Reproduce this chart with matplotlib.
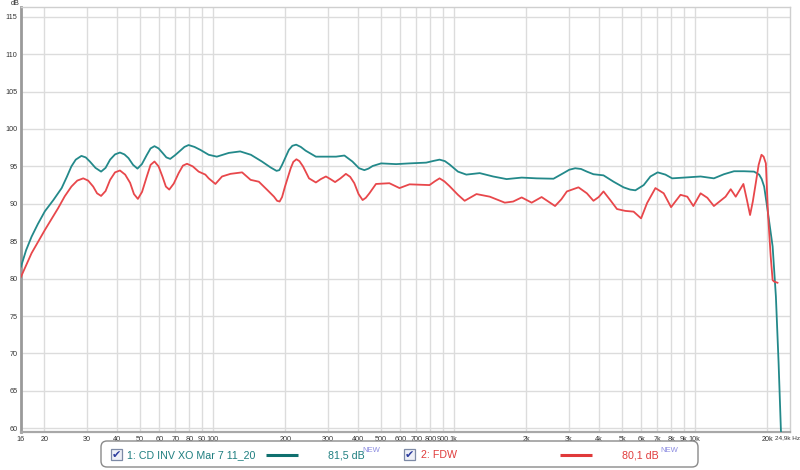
import matplotlib
matplotlib.use("Agg")
import matplotlib.pyplot as plt
from matplotlib.patches import FancyBboxPatch, Rectangle

plt.rcParams['font.family'] = ['Liberation Sans', 'DejaVu Sans']

# ---------------- data ----------------
teal_freq = [16, 16.8, 17.7, 18.8, 20.1, 21.8, 23.6, 24.8, 25.9, 27.0, 28.5, 29.7, 30.9, 32.6, 34.4,
             35.9, 37.5, 39.3, 41.2, 43.0, 44.7, 46.7, 48.7, 50.8, 53.2, 55.2, 57.3, 59.6, 61.9,
             64.2, 66.6, 69.8, 73.3, 76.3, 79.4, 84, 88.9, 96.2, 104, 116.6, 130, 144, 160, 174,
             184, 189, 194, 207, 214, 222, 232, 243, 268, 295, 325, 352, 380, 405, 426, 443, 461,
             500, 577, 656, 769, 830, 874, 920, 962, 1042, 1129, 1283, 1458, 1659, 1916, 2212, 2597,
             2856, 3020, 3195, 3380, 3573, 3805, 4188, 4612, 5074, 5400, 5680, 6150, 6560, 7030,
             7570, 8073, 9020, 10600, 12030, 13240, 14580, 16040, 17660, 18540, 19000, 19450,
             20000, 21090, 21760, 22330, 22830, 23000]
teal_db = [81.6, 83.8, 85.6, 87.3, 89.0, 90.5, 92.1, 93.6, 95.0, 95.9, 96.4, 96.2, 95.65, 94.8, 94.3,
           94.8, 95.9, 96.6, 96.85, 96.6, 96.1, 95.2, 94.7, 95.3, 96.5, 97.4, 97.7, 97.4, 96.8,
           96.2, 96.0, 96.5, 97.1, 97.6, 97.85, 97.6, 97.2, 96.55, 96.3, 96.8, 97.0, 96.55, 95.65, 94.85,
           94.4, 94.5, 95.2, 97.2, 97.75, 97.9, 97.6, 97.1, 96.3, 96.3, 96.3, 96.45, 95.65, 94.75, 94.5, 94.7, 95.05,
           95.4, 95.3, 95.4, 95.5, 95.75, 95.9, 95.7, 95.25, 94.3, 93.9, 94.1, 93.65, 93.3, 93.5, 93.4, 93.35,
           94.1, 94.55, 94.75, 94.65, 94.3, 93.95, 93.8, 92.95, 92.2, 91.9, 91.8, 92.5, 93.65, 94.2,
           93.9, 93.4, 93.5, 93.65, 93.4, 93.95, 94.35, 94.35, 94.3, 93.9, 93.3, 92.3,
           89.65, 84.3, 77.6, 68.7, 59.7, 58.5]

red_freq = [16, 17.7, 20.1, 22.8, 24.3, 25.9, 27.4, 29.0, 30.4, 31.9, 33.1, 34.4, 35.9, 37.5, 39.3,
            41.2, 43.3, 45.4, 47.1, 48.9, 50.9, 53.2, 55.2, 57.3, 59.6, 61.9, 63.9, 66, 68.9, 72.2,
            75.2, 78.2, 82.6, 87.4, 93.2, 96.2, 102.6, 109.3, 118.5, 132.4, 143.6, 155.4, 168.4,
            179.6, 185, 189.5, 194, 199.5, 210.7, 216, 222.5, 229, 237, 251, 268, 281, 295, 308,
            322, 339, 357, 372, 387, 403, 419, 432, 447, 476, 541, 596, 656, 794, 835, 874, 915,
            962, 1042, 1111, 1244, 1413, 1631, 1766, 1916, 2108, 2318, 2636, 2800, 2951, 3297, 3573,
            3805, 4000, 4188, 4467, 4764, 5158, 5585, 5998, 6353, 6880, 7447, 7990, 8744, 9330,
            9886, 10594, 11300, 12030, 13450, 14130, 14820, 15950, 16500, 17000, 17450, 17950,
            18450, 18960, 19350, 19770, 20170, 20700, 21090, 21400, 22090]
red_db = [80.25, 83.4, 86.5, 89.4, 91.0, 92.3, 93.1, 93.4, 93.1, 92.3, 91.4, 91.05, 91.7, 93.2, 94.2,
          94.45, 93.9, 92.8, 91.3, 90.65, 91.6, 93.6, 95.2, 95.65, 95.0, 93.6, 92.3, 91.9, 92.7, 94.1,
          95.1, 95.35, 95.0, 94.3, 93.9, 93.4, 92.65, 93.65, 94.0, 94.2, 93.2, 92.95, 91.85,
          90.95, 90.4, 90.3, 90.9, 92.3, 94.75, 95.6, 95.95, 95.7, 95.0, 93.4, 92.85, 93.3, 93.65, 93.3,
          92.9, 93.4, 94.0, 93.6, 92.75, 91.3, 90.5, 90.8, 91.4, 92.65, 92.75, 92.1, 92.6, 92.5, 93.0, 93.4, 93.0,
          92.35, 91.2, 90.4, 91.3, 90.95, 90.15, 90.3, 90.85, 90.15, 90.9, 89.7, 90.6, 91.65, 92.2, 91.4,
          90.4, 90.9, 91.65, 90.5, 89.3, 89.05, 88.95, 88.05, 90.1, 92.1, 91.4, 89.55, 91.2, 90.95,
          89.7, 91.4, 90.8, 89.7, 90.95, 91.95, 90.95, 92.65, 90.5, 88.5, 90.3, 92.75,
          95.2, 96.55, 96.3, 95.4, 88.75, 83.0, 79.8, 79.6, 79.45]

x_ticks = [16, 20, 30, 40, 50, 60, 70, 80, 90, 100, 200, 300, 400, 500, 600, 700, 800, 900,
           1000, 2000, 3000, 4000, 5000, 6000, 7000, 8000, 9000, 10000, 20000]
x_labels = ['16', '20', '30', '40', '50', '60', '70', '80', '90', '100', '200', '300', '400', '500',
            '600', '700', '800', '900', '1k', '2k', '3k', '4k', '5k', '6k', '7k', '8k', '9k', '10k',
            '20k']
x_end_label = '24,9k Hz'
y_ticks = [60, 65, 70, 75, 80, 85, 90, 95, 100, 105, 110, 115]

legend_names = ['1: CD INV XO Mar 7 11_20', '2: FDW']
legend_levels = ['81,5 dB', '80,1 dB']

TEAL = '#23898a'
RED = '#e8474b'

# ---------------- figure ----------------
W, H = 800, 470
fig = plt.figure(figsize=(W / 100, H / 100), dpi=100)
L, R, T, B = 21, 790, 7, 432
ax = fig.add_axes([L / W, 1 - B / H, (R - L) / W, (B - T) / H])
ax.set_xscale('log')
ax.set_xlim(16, 24900)
ax.set_ylim(59.5, 116.3)

ax.plot(teal_freq, teal_db, color=TEAL, lw=1.3, zorder=3, solid_joinstyle='round')
ax.plot(red_freq, red_db, color=RED, lw=1.3, zorder=3, solid_joinstyle='round')

ax.set_xticks(x_ticks)
ax.set_xticklabels(x_labels)
ax.xaxis.set_minor_locator(matplotlib.ticker.NullLocator())
ax.set_yticks(y_ticks)
ax.set_yticklabels([str(v) for v in y_ticks])
ax.grid(True, color='#dcdcdc', lw=1.0, zorder=0)
ax.set_axisbelow(True)
ax.tick_params(length=0, labelsize=5.2, labelcolor='#333333')
ax.tick_params(axis='x', pad=3)
ax.tick_params(axis='y', pad=2.5)

for s in ['top', 'right']:
    ax.spines[s].set_color('#cfcfcf')
    ax.spines[s].set_linewidth(1.0)
ax.spines['left'].set_color('#9a9a9a')
ax.spines['left'].set_linewidth(2.0)
ax.spines['bottom'].set_color('#a8a8a8')
ax.spines['bottom'].set_linewidth(1.6)

# ---------------- overlay (pixel coordinates) ----------------
ov = fig.add_axes([0, 0, 1, 1], zorder=5)
ov.set_xlim(0, W)
ov.set_ylim(H, 0)
ov.axis('off')
ov.patch.set_alpha(0)

ov.text(15, 3.5, 'dB', fontsize=5.2, color='#333333', ha='center', va='center')
ov.text(800, 437.5, x_end_label, fontsize=4.6, color='#333333', ha='right', va='center')

box = FancyBboxPatch((101, 441), 597, 26, boxstyle='round,pad=0,rounding_size=6',
                     fc='white', ec='#8a8a8a', lw=1.0)
ov.add_patch(box)

def checkbox(x, y):
    ov.add_patch(Rectangle((x, y), 11, 11, fc='#eef0f7', ec='#7d8aa6', lw=0.9))
    ov.text(x + 5.8, y + 5.8, '✔', fontsize=8, color='#2b3c9e', ha='center', va='center',
            family='DejaVu Sans')

FS = 7.7
checkbox(111, 449)
ov.text(127, 455, legend_names[0], fontsize=FS, color='#1f7f80', va='center', ha='left')
ov.plot([266, 298], [455, 455], color='#10706f', lw=2.2, solid_capstyle='butt')
ov.text(328, 455, legend_levels[0], fontsize=FS, color='#1f7f80', va='center', ha='left')
ov.text(362, 450, 'NEW', fontsize=5.5, color='#8a8ae0', va='center', ha='left')

checkbox(404, 449)
ov.text(421, 455, legend_names[1], fontsize=FS, color='#e03c3c', va='center', ha='left')
ov.plot([560, 592], [455, 455], color='#e0393a', lw=2.2, solid_capstyle='butt')
ov.text(622, 455, legend_levels[1], fontsize=FS, color='#e03c3c', va='center', ha='left')
ov.text(660, 450, 'NEW', fontsize=5.5, color='#8a8ae0', va='center', ha='left')

fig.savefig('out.png', dpi=100)
